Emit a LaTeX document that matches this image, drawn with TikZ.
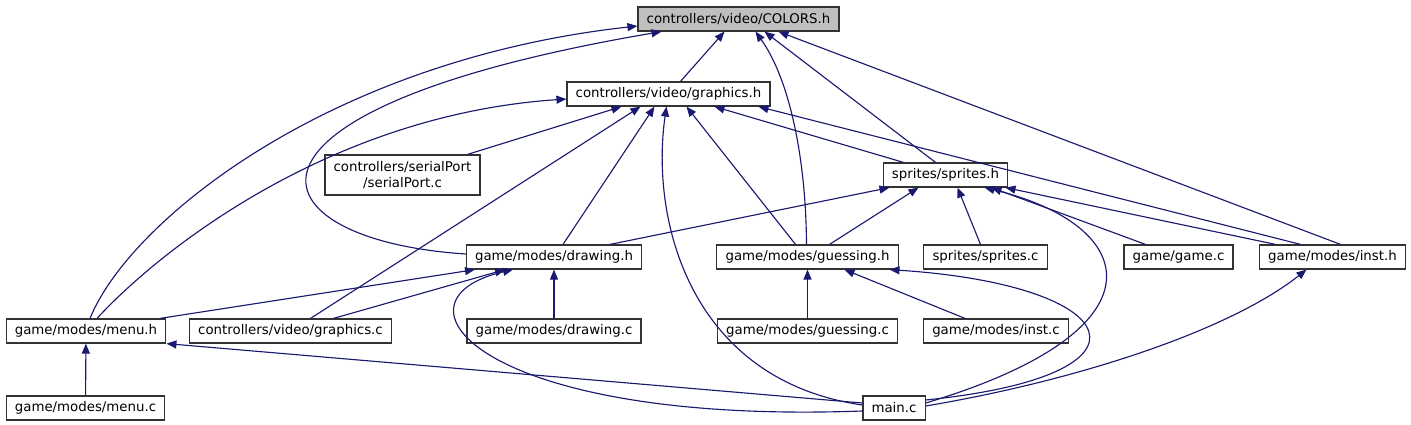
\documentclass[tikz,border=0pt]{standalone}
\usepackage{fontspec}
\setmainfont{DejaVu Sans}
\usetikzlibrary{arrows.meta,calc}
\definecolor{edgeblue}{RGB}{25,25,112}
\definecolor{rootgray}{RGB}{191,191,191}
\tikzset{
  incarrow/.style={-{Triangle[length=7.5pt,width=6pt]}, draw=edgeblue, line width=0.85pt},
  filebox/.style={draw=black!80, line width=0.9pt, fill=white, minimum height=18pt, inner xsep=6.5pt, inner ysep=2pt, align=center},
  rootbox/.style={filebox, fill=rootgray}
}
\begin{document}
\begin{tikzpicture}[x=0.75pt, y=-0.75pt, every node/.style={font=\fontsize{10}{12}\selectfont}]
  \useasboundingbox (0,0) rectangle (1411,425);
  % files, one row per rank
  \node[rootbox] (colors) at (738.5,19) {controllers/video/COLORS.h};
  \node[filebox] (graphicsh) at (668.5,94) {controllers/video/graphics.h};
  \node[filebox, minimum height=30pt] (serial) at (402.5,175) {controllers/serialPort\\/serialPort.c};
  \node[filebox] (spritesh) at (945.5,175) {sprites/sprites.h};
  \node[filebox] (drawingh) at (554,257) {game/modes/drawing.h};
  \node[filebox] (guessingh) at (807.5,257) {game/modes/guessing.h};
  \node[filebox] (spritesc) at (985.5,257) {sprites/sprites.c};
  \node[filebox] (gamec) at (1178.5,257) {game/game.c};
  \node[filebox] (insth) at (1332.5,257) {game/modes/inst.h};
  \node[filebox] (menuh) at (86,331) {game/modes/menu.h};
  \node[filebox] (graphicsc) at (290.5,331) {controllers/video/graphics.c};
  \node[filebox] (drawingc) at (554,331) {game/modes/drawing.c};
  \node[filebox] (guessingc) at (807.5,331) {game/modes/guessing.c};
  \node[filebox] (instc) at (996,331) {game/modes/inst.c};
  \node[filebox] (menuc) at (85.5,408) {game/modes/menu.c};
  \node[filebox] (mainc) at (894,408) {main.c};

  % includes of COLORS.h
  \draw[incarrow] ($(graphicsh.north)+(12,0)$) -- ($(colors.south)+(-14,0)$);
  \draw[incarrow] ($(menuh.north)+(4,0)$) .. controls (130,220) and (330,60) .. ($(colors.west)+(0,7)$);
  \draw[incarrow] ($(drawingh.west)+(0,-3)$) .. controls (250,240) and (200,110) .. ($(colors.south)+(-77,0)$);
  \draw[incarrow] ($(guessingh.north)+(-1,0)$) .. controls (806,160) and (790,80) .. ($(colors.south)+(17,0)$);
  \draw[incarrow] ($(spritesh.north)+(-10,0)$) -- ($(colors.south)+(26,0)$);
  \draw[incarrow] ($(insth.north)+(8,0)$) -- ($(colors.south)+(40,0)$);

  % includes of graphics.h
  \draw[incarrow] ($(menuh.north)+(11,0)$) .. controls (160,250) and (330,115) .. ($(graphicsh.west)+(0,5)$);
  \draw[incarrow] ($(serial.north)+(65,0)$) -- ($(graphicsh.south)+(-47,0)$);
  \draw[incarrow] ($(graphicsc.north)+(20,0)$) -- ($(graphicsh.south)+(-28,0)$);
  \draw[incarrow] ($(drawingh.north)+(9,0)$) -- ($(graphicsh.south)+(-14,0)$);
  \draw[incarrow] ($(mainc.west)+(0,-3)$) .. controls (690,380) and (650,220) .. ($(graphicsh.south)+(-2,0)$);
  \draw[incarrow] ($(guessingh.north)+(-12,0)$) -- ($(graphicsh.south)+(18,0)$);
  \draw[incarrow] ($(spritesh.north)+(-42,0)$) -- ($(graphicsh.south)+(46,0)$);
  \draw[incarrow] ($(insth.north)+(-32,0)$) -- ($(graphicsh.south)+(90,0)$);

  % includes of sprites.h
  \draw[incarrow] ($(drawingh.north)+(56,0)$) -- ($(spritesh.south)+(-56,0)$);
  \draw[incarrow] ($(guessingh.north)+(22,0)$) -- ($(spritesh.south)+(-27,0)$);
  \draw[incarrow] ($(spritesc.north)+(-5,0)$) -- ($(spritesh.south)+(12,0)$);
  \draw[incarrow] ($(mainc.east)+(0,-5)$) .. controls (1170,330) and (1140,225) .. ($(spritesh.south)+(39,0)$);
  \draw[incarrow] ($(gamec.north)+(-33,0)$) -- ($(spritesh.south)+(46,0)$);
  \draw[incarrow] ($(insth.north)+(-57,0)$) -- ($(spritesh.south)+(60,0)$);

  % includes of drawing.h
  \draw[incarrow] ($(menuh.north)+(74,0)$) -- ($(drawingh.south)+(-79,0)$);
  \draw[incarrow] ($(graphicsc.north)+(43,0)$) -- ($(drawingh.south)+(-49,0)$);
  \draw[incarrow] (drawingc) -- (drawingh);
  \draw[incarrow] ($(mainc.west)+(0,3)$) .. controls (480,425) and (380,300) .. ($(drawingh.south)+(-41,0)$);

  % includes of guessing.h
  \draw[incarrow] (guessingc) -- (guessingh);
  \draw[incarrow] ($(instc.north)+(-31,0)$) -- ($(guessingh.south)+(37,0)$);
  \draw[incarrow] ($(mainc.east)+(0,-8)$) .. controls (1170,375) and (1125,285) .. ($(guessingh.south)+(82,0)$);

  % includes of inst.h and menu.h
  \draw[incarrow] ($(mainc.east)+(0,-2)$) .. controls (1080,380) and (1230,330) .. ($(insth.south)+(-26,0)$);
  \draw[incarrow] (menuc) -- (menuh);
  \draw[incarrow] ($(mainc.west)+(0,-5)$) -- (menuh.south east);
\end{tikzpicture}
\end{document}
